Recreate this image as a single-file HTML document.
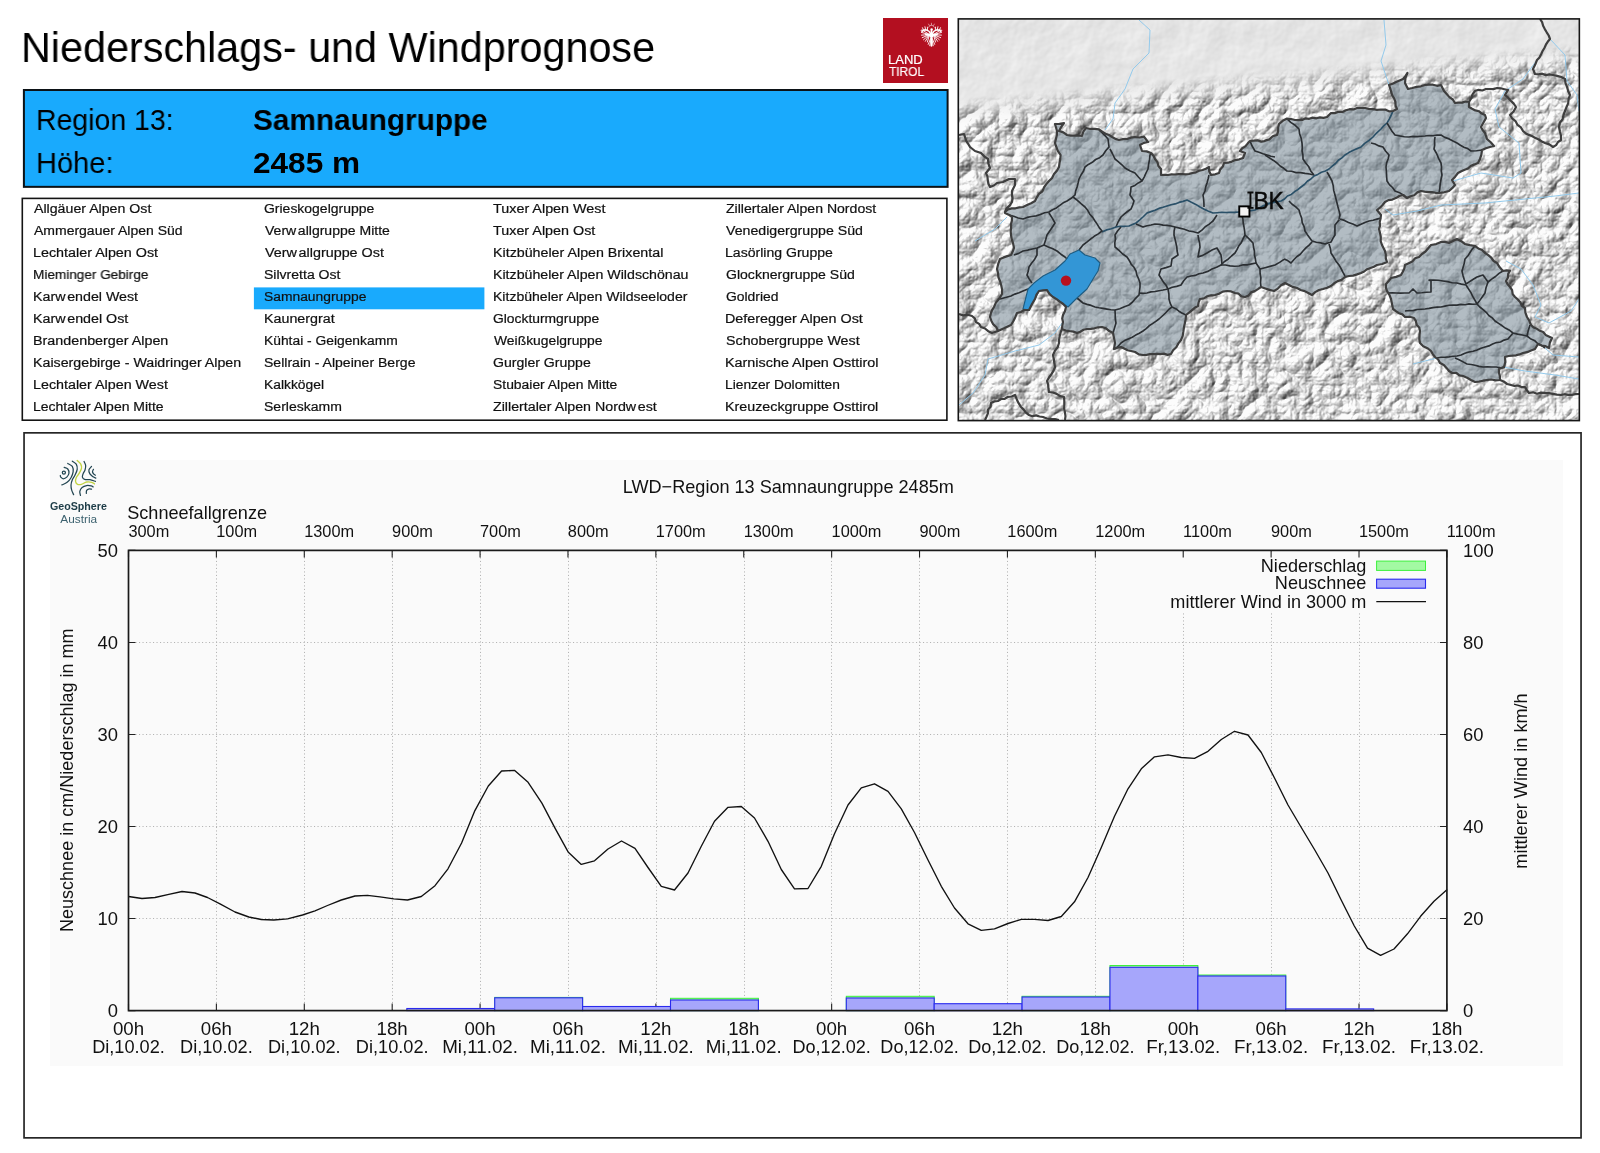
<!DOCTYPE html>
<html><head><meta charset="utf-8"><title>Niederschlags- und Windprognose</title>
<style>
html,body{margin:0;padding:0;background:#fff;}
body{width:1600px;height:1153px;position:relative;overflow:hidden;font-family:"Liberation Sans",sans-serif;color:#000;}
.abs{position:absolute;}
svg{will-change:transform;}
.t{position:absolute;white-space:nowrap;transform-origin:0 0;line-height:1;will-change:transform;}
.l{-webkit-text-stroke:0.22px #111;}
.w{-webkit-text-stroke:0.2px #fff;}
</style></head><body>
<div class="t" style="left:21.192px;top:26.394px;font-size:43.1px;color:#000;transform:scaleX(0.959)">Niederschlags- und Windprognose</div>
<svg class="abs" style="left:883px;top:18px" width="65" height="65" viewBox="0 0 65 65">
<rect width="65" height="65" fill="#b30f20"/>
<g transform="translate(48.45 15.90) scale(0.9 0.98) translate(-48.45 -15.40)">
<path d="M46.25 16.10L37.94 11.22M46.25 16.10L37.32 13.94M46.25 16.10L37.38 16.67M46.25 16.10L38.18 19.24M46.25 16.10L39.63 21.41M46.25 16.10L41.64 22.95M46.25 16.10L43.95 23.69M40.05 12.30L38.45 9.10M42.05 11.50L41.25 8.10M44.15 11.60L43.95 8.50M38.55 13.50L36.85 11.70M50.65 16.10L58.96 11.22M50.65 16.10L59.58 13.94M50.65 16.10L59.52 16.67M50.65 16.10L58.72 19.24M50.65 16.10L57.27 21.41M50.65 16.10L55.26 22.95M50.65 16.10L52.95 23.69M56.85 12.30L58.45 9.10M54.85 11.50L55.65 8.10M52.75 11.60L52.95 8.50M58.35 13.50L60.05 11.70M47.65 19.90L44.85 26.10M49.25 19.90L52.05 26.10M47.95 20.90L46.55 27.50M48.95 20.90L50.35 27.50" stroke="#fff" stroke-width="0.95" stroke-linecap="round" fill="none"/>
<path d="M47.65 15.30C45.45 10.70 40.45 10.30 38.05 12.70" stroke="#fff" stroke-width="1.7" fill="none" stroke-linecap="round"/>
<path d="M49.25 15.30C51.45 10.70 56.45 10.30 58.85 12.70" stroke="#fff" stroke-width="1.7" fill="none" stroke-linecap="round"/>
<path d="M42.25 16.10h12.4" stroke="#fff" stroke-width="1.9" stroke-linecap="round"/>
<path d="M48.45 12.50V27.50" stroke="#fff" stroke-width="2.1" stroke-linecap="round"/>
<circle cx="48.45" cy="16.70" r="2.6" fill="#fff"/>
<circle cx="48.65" cy="10.90" r="1.35" fill="#fff"/>
<g fill="none" stroke="#fff" stroke-opacity="0.78" stroke-width="0.7" stroke-linecap="round">
<path d="M45.05 8.70q3.4 -4.6 6.8 0"/>
<path d="M46.15 6.90l-0.9 -1.5M48.45 6.30l0 -1.8M50.75 6.90l0.9 -1.5"/>
</g>
</g>
</svg>
<div class="t w" style="left:887.724px;top:53.658px;font-size:12.8px;color:#fff;transform:scaleX(1.019)">LAND</div>
<div class="t w" style="left:888.931px;top:65.758px;font-size:12.8px;color:#fff;transform:scaleX(0.933)">TIROL</div>
<svg class="abs" style="left:0;top:0" width="956" height="430"><rect x="23.9" y="90" width="923.7" height="96.85" fill="#19aafd" stroke="#0c1216" stroke-width="2"/><rect x="22.3" y="198.4" width="924.6" height="221.8" fill="#fff" stroke="#141414" stroke-width="1.6"/><rect x="253.9" y="287.4" width="230.5" height="21.9" fill="#19aafd"/></svg>
<div class="t" style="left:36.451px;top:103.951px;font-size:30.4px;color:#000;transform:scaleX(0.936)">Region 13:</div>
<div class="t" style="left:253.307px;top:103.951px;font-size:30.4px;font-weight:bold;color:#000;transform:scaleX(0.979)">Samnaungruppe</div>
<div class="t" style="left:36.406px;top:146.951px;font-size:30.4px;color:#000;transform:scaleX(0.955)">Höhe:</div>
<div class="t" style="left:253.495px;top:146.951px;font-size:30.4px;font-weight:bold;color:#000;transform:scaleX(1.038)">2485 m</div>
<div class="t l" style="left:33.665px;top:201.796px;font-size:13.7px;color:#111;transform:scaleX(1.035)">Allgäuer Alpen Ost</div>
<div class="t l" style="left:33.665px;top:223.796px;font-size:13.7px;color:#111;transform:scaleX(1.022)">Ammergauer Alpen Süd</div>
<div class="t l" style="left:32.517px;top:245.796px;font-size:13.7px;color:#111;transform:scaleX(1.047)">Lechtaler Alpen Ost</div>
<div class="t l" style="left:32.579px;top:267.796px;font-size:13.7px;color:#111;transform:scaleX(0.992)">Mieminger Gebirge</div>
<div class="t l" style="left:32.524px;top:289.796px;font-size:13.7px;color:#111;transform:scaleX(1.04)">Kar<span style="letter-spacing:1.6px">w</span>endel West</div>
<div class="t l" style="left:32.521px;top:311.796px;font-size:13.7px;color:#111;transform:scaleX(1.043)">Kar<span style="letter-spacing:1.6px">w</span>endel Ost</div>
<div class="t l" style="left:32.518px;top:333.796px;font-size:13.7px;color:#111;transform:scaleX(1.046)">Brandenberger Alpen</div>
<div class="t l" style="left:32.526px;top:355.796px;font-size:13.7px;color:#111;transform:scaleX(1.039)">Kaisergebirge - Waidringer Alpen</div>
<div class="t l" style="left:32.518px;top:377.796px;font-size:13.7px;color:#111;transform:scaleX(1.045)">Lechtaler Alpen West</div>
<div class="t l" style="left:32.545px;top:399.796px;font-size:13.7px;color:#111;transform:scaleX(1.022)">Lechtaler Alpen Mitte</div>
<div class="t l" style="left:264.201px;top:201.796px;font-size:13.7px;color:#111;transform:scaleX(1.02)">Grieskogelgruppe</div>
<div class="t l" style="left:264.83px;top:223.796px;font-size:13.7px;color:#111;transform:scaleX(1.025)">Ver<span style="letter-spacing:1.6px">w</span>allgruppe Mitte</div>
<div class="t l" style="left:264.828px;top:245.796px;font-size:13.7px;color:#111;transform:scaleX(1.048)">Ver<span style="letter-spacing:1.6px">w</span>allgruppe Ost</div>
<div class="t l" style="left:264.268px;top:267.796px;font-size:13.7px;color:#111;transform:scaleX(1.025)">Silvretta Ost</div>
<div class="t l" style="left:264.277px;top:289.796px;font-size:13.7px;color:#111;transform:scaleX(1.011)">Samnaungruppe</div>
<div class="t l" style="left:263.721px;top:311.796px;font-size:13.7px;color:#111;transform:scaleX(1.043)">Kaunergrat</div>
<div class="t l" style="left:263.758px;top:333.796px;font-size:13.7px;color:#111;transform:scaleX(1.01)">Kühtai - Geigenkamm</div>
<div class="t l" style="left:264.267px;top:355.796px;font-size:13.7px;color:#111;transform:scaleX(1.026)">Sellrain - Alpeiner Berge</div>
<div class="t l" style="left:263.757px;top:377.796px;font-size:13.7px;color:#111;transform:scaleX(1.011)">Kalkkögel</div>
<div class="t l" style="left:264.269px;top:399.796px;font-size:13.7px;color:#111;transform:scaleX(1.023)">Serleskamm</div>
<div class="t l" style="left:493.377px;top:201.796px;font-size:13.7px;color:#111;transform:scaleX(1.049)">Tuxer Alpen West</div>
<div class="t l" style="left:493.377px;top:223.796px;font-size:13.7px;color:#111;transform:scaleX(1.048)">Tuxer Alpen Ost</div>
<div class="t l" style="left:492.524px;top:245.796px;font-size:13.7px;color:#111;transform:scaleX(1.041)">Kitzbüheler Alpen Brixental</div>
<div class="t l" style="left:492.529px;top:267.796px;font-size:13.7px;color:#111;transform:scaleX(1.036)">Kitzbüheler Alpen Wildschönau</div>
<div class="t l" style="left:492.54px;top:289.796px;font-size:13.7px;color:#111;transform:scaleX(1.026)">Kitzbüheler Alpen Wildseeloder</div>
<div class="t l" style="left:493.006px;top:311.796px;font-size:13.7px;color:#111;transform:scaleX(1.012)">Glockturmgruppe</div>
<div class="t l" style="left:493.631px;top:333.796px;font-size:13.7px;color:#111;transform:scaleX(1.014)">Weißkugelgruppe</div>
<div class="t l" style="left:492.996px;top:355.796px;font-size:13.7px;color:#111;transform:scaleX(1.028)">Gurgler Gruppe</div>
<div class="t l" style="left:493.074px;top:377.796px;font-size:13.7px;color:#111;transform:scaleX(1.015)">Stubaier Alpen Mitte</div>
<div class="t l" style="left:493.238px;top:399.796px;font-size:13.7px;color:#111;transform:scaleX(1.039)">Zillertaler Alpen Nord<span style="letter-spacing:1.6px">w</span>est</div>
<div class="t l" style="left:725.942px;top:201.796px;font-size:13.7px;color:#111;transform:scaleX(1.028)">Zillertaler Alpen Nordost</div>
<div class="t l" style="left:726.329px;top:223.796px;font-size:13.7px;color:#111;transform:scaleX(1.034)">Venedigergruppe Süd</div>
<div class="t l" style="left:725.239px;top:245.796px;font-size:13.7px;color:#111;transform:scaleX(1.027)">Lasörling Gruppe</div>
<div class="t l" style="left:725.697px;top:267.796px;font-size:13.7px;color:#111;transform:scaleX(1.026)">Glocknergruppe Süd</div>
<div class="t l" style="left:725.705px;top:289.796px;font-size:13.7px;color:#111;transform:scaleX(1.015)">Goldried</div>
<div class="t l" style="left:725.217px;top:311.796px;font-size:13.7px;color:#111;transform:scaleX(1.047)">Deferegger Alpen Ost</div>
<div class="t l" style="left:725.758px;top:333.796px;font-size:13.7px;color:#111;transform:scaleX(1.041)">Schobergruppe West</div>
<div class="t l" style="left:725.214px;top:355.796px;font-size:13.7px;color:#111;transform:scaleX(1.05)">Karnische Alpen Osttirol</div>
<div class="t l" style="left:725.263px;top:377.796px;font-size:13.7px;color:#111;transform:scaleX(1.006)">Lienzer Dolomitten</div>
<div class="t l" style="left:725.22px;top:399.796px;font-size:13.7px;color:#111;transform:scaleX(1.044)">Kreuzeckgruppe Osttirol</div>
<svg class="abs" style="left:957px;top:17px" width="625" height="405" viewBox="957 17 625 405">
<defs>
<filter id="relief" x="0" y="0" width="100%" height="100%" color-interpolation-filters="sRGB">
<feTurbulence type="turbulence" baseFrequency="0.035" numOctaves="5" seed="7" result="n"/>
<feDiffuseLighting in="n" surfaceScale="4.2" diffuseConstant="1.16" lighting-color="#ffffff" result="l"><feDistantLight azimuth="225" elevation="46"/></feDiffuseLighting>
<feComponentTransfer in="l"><feFuncR type="linear" slope="0.78" intercept="0.21"/><feFuncG type="linear" slope="0.78" intercept="0.21"/><feFuncB type="linear" slope="0.78" intercept="0.21"/></feComponentTransfer>
</filter>
<filter id="relief2" x="0" y="0" width="100%" height="100%" color-interpolation-filters="sRGB">
<feTurbulence type="fractalNoise" baseFrequency="0.03" numOctaves="4" seed="11" result="n"/>
<feDiffuseLighting in="n" surfaceScale="0.45" diffuseConstant="1.25" lighting-color="#ffffff"><feDistantLight azimuth="225" elevation="46"/></feDiffuseLighting>
</filter>
<linearGradient id="fade" gradientUnits="userSpaceOnUse" x1="1270" y1="70" x2="1272.5" y2="98"><stop offset="0" stop-color="#000"/><stop offset="1" stop-color="#fff"/></linearGradient>
<mask id="mfade" maskUnits="userSpaceOnUse" x="957" y="17" width="625" height="405"><rect x="957" y="17" width="625" height="405" fill="url(#fade)"/></mask>
<clipPath id="mapclip"><rect x="958.3" y="18.9" width="621.05" height="401.7"/></clipPath>
</defs>
<g clip-path="url(#mapclip)">
<rect x="957" y="17" width="625" height="405" fill="#e2e2e2"/>
<rect x="957" y="17" width="625" height="405" filter="url(#relief2)"/>
<rect x="957" y="17" width="625" height="405" filter="url(#relief)" mask="url(#mfade)"/>
<path d="M1139 20 L1150 30 L1149 53 L1133 69 L1125 89 L1115 103 L1113 119 L1105 130" fill="none" stroke="#93caec" stroke-width="1" stroke-linejoin="round"/>
<path d="M1384 20 L1386 45 L1381 61 L1389 85" fill="none" stroke="#93caec" stroke-width="1" stroke-linejoin="round"/>
<path d="M1550 39 L1565 55 L1567 81 L1577 95 L1579 111" fill="none" stroke="#93caec" stroke-width="1" stroke-linejoin="round"/>
<path d="M1537 60 L1523 79 L1505 91 L1495 109 L1499 127 L1519 143 L1521 173 L1513 178 L1481 173 L1453 181" fill="none" stroke="#93caec" stroke-width="1" stroke-linejoin="round"/>
<path d="M1385 209 L1393 215 L1417 211 L1441 205 L1485 203 L1525 199 L1555 196 L1579 193" fill="none" stroke="#93caec" stroke-width="1" stroke-linejoin="round"/>
<path d="M1506 261 L1521 269 L1533 285 L1541 305 L1535 317 L1549 323 L1571 311 L1579 299" fill="none" stroke="#93caec" stroke-width="1" stroke-linejoin="round"/>
<path d="M1545 348 L1553 355 L1579 357" fill="none" stroke="#93caec" stroke-width="1" stroke-linejoin="round"/>
<path d="M1413 364 L1425 361 L1437 358" fill="none" stroke="#93caec" stroke-width="1" stroke-linejoin="round"/>
<path d="M1505 367.4 L1525 371 L1555 375 L1579 379" fill="none" stroke="#93caec" stroke-width="1" stroke-linejoin="round"/>
<path d="M959 405 L973 393 L985 375 L988 359 L1015 351 L1039 345 L1055 333 L1062 323" fill="none" stroke="#93caec" stroke-width="1" stroke-linejoin="round"/>
<path d="M975 241 L995 229 L1007 217" fill="none" stroke="#93caec" stroke-width="1" stroke-linejoin="round"/>
<path d="M1005 212 L1008 209.4 L1011.7 208.4 L1015.5 208.3 L1019.2 207.4 L1023 207 L1027.1 205.1 L1031.1 203.2 L1035 201 L1036.8 197.3 L1039 193.9 L1042.4 191.3 L1044 187.4 L1046.3 184.1 L1049 181 L1052.1 178 L1054 174 L1056.9 170.8 L1059 167 L1059.5 163 L1060.3 159 L1060.6 155 L1057.8 150.8 L1056 146 L1055 143 L1055.9 139 L1056.9 135.1 L1057 131 L1056 127.5 L1055 124 L1059.5 123.9 L1064 123 L1061.3 126.9 L1059 131 L1063.3 132.4 L1067 135 L1070.7 135.7 L1074.5 135.6 L1078.3 135.4 L1082 136 L1083.3 131.7 L1086 128 L1090.3 129 L1094.7 128.9 L1099 129.4 L1102.2 131.6 L1105.4 133.7 L1109 135 L1112.2 137 L1115.4 138.9 L1119 140 L1123 139.1 L1127.1 139 L1131 137.7 L1135 137 L1139.5 137.5 L1144 136.6 L1148 142 L1143.8 142.9 L1140 145 L1142 151 L1146.6 151.4 L1151 153 L1153.5 155.7 L1155 159 L1157.4 162.1 L1158.4 166 L1161 169 L1161 175 L1164.5 174.8 L1168 175 L1171.5 174.3 L1175 174.5 L1178.5 174.2 L1182 174 L1185.5 174.3 L1189 174 L1192.4 173 L1195.9 172.3 L1199.1 170.8 L1202.6 170 L1205.9 168.7 L1209 167 L1209.2 171.2 L1211 175 L1215.1 174.3 L1219 173 L1220.2 169.4 L1222.8 166.6 L1224 163 L1228 162.7 L1231.8 161.6 L1235.4 160.1 L1239.3 159.3 L1243 158 L1245 153 L1240 151 L1242.2 148.2 L1245.4 146.4 L1247.6 143.6 L1250 141 L1253.8 140.7 L1257.5 140.3 L1261.2 141.6 L1265 141 L1265 140.6 L1269.3 139.4 L1272.7 136.3 L1277 135 L1278.1 131.4 L1278.2 127.6 L1279 124 L1282.7 120.8 L1287 118.6 L1291.1 119 L1295 120 L1298.6 120.1 L1302.2 119.9 L1305.6 118.3 L1309.2 118.8 L1312.7 117.6 L1316.4 118.3 L1319.9 117.4 L1323.5 117.9 L1327 117 L1331 113 L1334.9 113.1 L1338.5 111.8 L1342.4 111.9 L1345.9 110.2 L1349.6 109.2 L1353.5 109.4 L1357.1 107.9 L1361 108 L1365.1 108 L1369 109 L1373 109.2 L1377 109.8 L1381 109.5 L1385.1 109.6 L1389 111.3 L1393 111 L1397 109 L1395.6 105.7 L1395.4 101.9 L1394.2 98.5 L1392.2 95.3 L1391.2 91.9 L1390.2 88.4 L1389 85 L1392.6 83.7 L1396.1 82.1 L1399.5 80.6 L1403 79 L1405.4 76.1 L1407.4 73 L1405.5 77.8 L1405 83 L1408 89 L1412.3 88 L1416.5 86.9 L1420.8 86.3 L1425 85 L1429 84.6 L1433 84.7 L1437 85.8 L1441 85 L1444 91 L1446.7 94 L1449.4 97.1 L1452.8 99.5 L1455 103 L1458.5 102.6 L1462 102.6 L1465.4 101.5 L1469 102 L1469 107 L1472.1 108.8 L1475.3 110.4 L1478.9 111.2 L1481.7 113.6 L1485 115 L1486 118 L1483.5 122.5 L1481 127 L1482.8 130.2 L1485 133 L1487 139 L1490.7 142.3 L1494 146 L1489.9 147 L1485.9 148.3 L1482 150 L1481.4 154.6 L1480 158.9 L1478 163 L1474.5 164.4 L1471 165.7 L1468.2 168.4 L1464.7 169.7 L1461.3 171.2 L1458 173 L1455.2 176.7 L1452 180 L1455 185 L1452.2 188.2 L1449 191 L1444.1 192.3 L1439 193 L1435.4 192.8 L1431.8 192 L1428.2 192.1 L1424.6 191.6 L1421 191 L1417.3 192.4 L1414.3 195.2 L1410.5 196.2 L1407 198 L1403 195 L1399.3 196 L1395.9 198.1 L1392.4 199.6 L1388.4 200.1 L1385 202 L1382.6 205 L1380 207.7 L1377 210 L1381 215 L1380.6 218.5 L1379.7 222 L1380.1 225.6 L1379 229 L1380 232.9 L1380.8 237 L1380.7 241.1 L1382 245 L1385 251 L1385.8 254.6 L1385.8 258.4 L1387 262 L1382.2 264 L1377 265 L1373.9 266.8 L1370.5 268 L1367.1 269.2 L1364.2 271.5 L1361 273 L1357.1 274.4 L1353.1 275.6 L1349 276 L1345 277 L1341.8 279.7 L1337.7 281.1 L1334.2 283.3 L1331 286 L1327.2 287.8 L1323.1 289 L1319 290 L1315.2 292.1 L1312 295 L1308.3 293 L1304.7 291.1 L1300.6 290 L1297 288 L1292.8 286.9 L1288.9 285 L1285 283 L1281.1 285.3 L1277.9 288.6 L1274 291 L1269.6 289.9 L1265.3 288.5 L1261 287 L1257.9 289.1 L1254.7 291.1 L1251 292.4 L1248.5 295.5 L1245 297 L1241.4 296.4 L1238.6 293.7 L1235 293 L1231.1 291.4 L1227 291 L1222.8 291.6 L1219 293.8 L1215 295 L1211.1 295.3 L1207.3 296.3 L1203.9 298.4 L1200 299 L1198.6 302.4 L1198 306 L1194.7 307.8 L1191.8 310.3 L1189 312.7 L1186 315 L1185.7 319.1 L1184.9 323 L1184 327 L1183.4 331.4 L1182.7 335.8 L1181 340 L1178.4 343.4 L1176.3 347.2 L1173.1 350.2 L1171 354 L1167.5 354.9 L1164 353.6 L1160.5 354.1 L1157 353.8 L1153.5 354 L1150 354.1 L1146.5 354.8 L1143 355 L1138.8 354.4 L1135.1 352 L1131 351 L1127.5 350.2 L1124.2 348.6 L1121 347 L1117.4 347.7 L1114 349 L1115 343 L1114 338 L1113 333 L1109.3 331.1 L1106 328.4 L1102 327 L1098.2 327.3 L1094.5 328.3 L1090.8 328.9 L1087 329 L1083.5 329.8 L1080.3 331.7 L1077 333 L1073.4 331.6 L1069.4 331.2 L1065.6 330.5 L1062 329 L1062.3 325.5 L1063 322 L1062.2 318.5 L1063 315 L1064.9 311.2 L1066 307 L1063.2 304 L1059.8 301.6 L1056.6 299.1 L1053 297 L1049.4 294 L1047 290 L1043 290.3 L1039 291 L1036.5 294.7 L1035 299 L1032 304 L1029 310 L1024 310 L1020.8 312.2 L1017 313 L1015.3 317.2 L1013.3 321.2 L1011 325 L1007.7 326.5 L1004.6 328.1 L1001.3 329.5 L998 331 L996.4 327.3 L993.3 324.4 L991.4 320.9 L990 317 L990.8 313.4 L992.1 310.1 L994 307 L995.9 302.6 L999 299 L1002 294 L1002.1 289.6 L1001.2 285.2 L1000 281 L998.4 277.2 L998 273 L997 269 L998.2 263.9 L1000 259 L1003.6 257.4 L1007.3 256.1 L1011 255 L1012.7 251.6 L1014 248 L1013.1 243.6 L1011.8 239.4 L1011 235 L1010.7 231.4 L1011.1 227.8 L1011 224.2 L1011.9 220.6 L1012 217 L1008.7 214.7 L1005 213Z" fill="#85949f" fill-opacity="0.62"/>
<path d="M1386 284 L1388.7 281.1 L1391 278 L1396.1 276.9 L1401 275 L1402.8 271.8 L1404.3 268.6 L1405 265 L1408.7 263.3 L1412.3 261.6 L1415.1 258.3 L1419 257 L1422 254 L1425.5 251.5 L1428.2 248.2 L1431 245 L1436.2 244.1 L1441 242 L1445.1 241.9 L1449 243 L1453 241 L1457 239 L1461.2 241.2 L1465 244 L1470 245.1 L1475 246 L1478.3 248.4 L1482.1 250 L1485 253 L1488.3 255.2 L1491.2 257.7 L1493.6 261 L1497 263 L1499.7 267.3 L1503 271 L1506.5 270.3 L1510 270.6 L1508.2 273.9 L1507.9 277.7 L1506 281 L1507.6 284.3 L1510.1 287.1 L1512.1 290.2 L1512.7 294.1 L1515 297 L1517.8 299.4 L1520.3 302.2 L1521.9 305.8 L1525 308 L1525.4 312.6 L1527 317 L1529.3 320.8 L1531 325 L1533.6 327.5 L1537 328.8 L1539.9 330.8 L1543.2 332 L1545.6 334.9 L1548.8 336.4 L1552 338 L1549.8 342.8 L1549 348 L1545.5 346.1 L1541.6 345.6 L1538 344 L1535 349 L1531.1 350.5 L1527.2 352.2 L1523 353 L1519.5 354.4 L1516 355.3 L1512.3 355.7 L1508.6 356 L1505 357 L1505.3 362.1 L1504 367 L1499 369 L1499 372.7 L1499.9 376.3 L1500 380 L1495.7 380.3 L1491.3 379.5 L1487 380 L1483 380.7 L1479 381.6 L1475 382 L1471 380 L1467.1 377.7 L1463 376 L1459.3 375.4 L1456.3 372.8 L1452.2 373 L1449 371 L1446.5 367.9 L1443.8 365 L1440.1 363.1 L1438.1 359.5 L1435 357 L1432.8 354.1 L1431 351 L1427.4 348.2 L1423.2 346.3 L1420 343 L1419.3 339 L1419.5 335 L1420 331 L1419.2 327.4 L1416.6 324.7 L1415.9 321.1 L1414 318 L1409.6 316.8 L1405 317 L1402.4 314.4 L1398.9 313.2 L1395.9 311.2 L1393 309 L1392 304 L1391 299 L1389.4 294.8 L1387 291 L1385.9 287.6Z" fill="#85949f" fill-opacity="0.62"/>
<path d="M1023 309 L1028 289 L1034 283 L1043 276 L1055 270 L1065 261 L1070 254 L1079 250 L1085 255 L1095 258 L1100 263 L1098 271 L1093 279 L1087 289 L1077 298 L1068 307 L1053 297 L1047 290 L1039 291 L1035 299 L1032 304 L1029 310Z" fill="#3396d6"/>
<path d="M1009 215 L1013.7 216.3 L1018.2 218 L1023 219 L1027.2 217.4 L1031.6 216.5 L1036.1 215.9 L1040.4 214.5 L1044.6 212.8 L1049 212 L1052.5 209.7 L1056.4 207.9 L1059.8 205.4 L1063.2 202.8 L1067 201 L1071.2 198.3 L1075 195 L1075.7 190.9 L1077.1 187 L1078.1 183 L1079 179 L1081 175 L1083.4 171.2 L1085 167 L1088.4 164.4 L1092.3 162.3 L1095.6 159.5 L1099.6 157.7 L1103 155 L1105.7 150.8 L1109 147 L1108.5 143 L1108 139 L1105.2 135.8 L1102.2 132.8 L1099 130" fill="none" stroke="#2b2f33" stroke-width="1.65" stroke-linejoin="round"/>
<path d="M1110 149 L1112.6 154 L1115 159 L1118.5 161.8 L1121.9 164.8 L1125 168 L1129.8 170.8 L1135 173 L1138.4 177 L1142 181 L1144.2 177.1 L1146 173 L1148 169 L1148.6 164.3 L1149.5 159.7 L1150 155 L1151 153" fill="none" stroke="#2b2f33" stroke-width="1.65" stroke-linejoin="round"/>
<path d="M1142 181 L1138.3 182.9 L1134.9 185.4 L1131 187 L1130.7 191 L1130 195 L1134 201 L1132.7 205.1 L1131 209 L1127.5 211.5 L1124.2 214.2 L1121 217 L1118.2 221.8 L1116 227" fill="none" stroke="#2b2f33" stroke-width="1.65" stroke-linejoin="round"/>
<path d="M1102 232 L1106.5 229.9 L1111.4 228.8 L1116 227 L1120.3 226.3 L1124.7 226.3 L1129 226 L1136 223 L1139.8 219.8 L1143.5 216.5 L1147 213 L1151 211.6 L1155 210.2 L1158.9 208.4 L1163 207.3 L1167 206 L1171 204.7 L1175.1 203.9 L1179 202.4 L1183.1 201.4 L1187 200 L1191.4 202.3 L1195.8 204.4 L1200 207 L1204.2 209.3 L1208.5 211.3 L1213 213 L1217.3 212.7 L1221.7 212.3 L1226 212.5 L1230.3 212.3 L1234.7 212.4 L1239 212 L1243 211.6 L1247 211 L1251 210.6 L1255 210 L1259 208.1 L1262.8 206 L1266.8 204.2 L1271.2 203.2 L1275 201" fill="none" stroke="#2a5068" stroke-width="1.65" stroke-linejoin="round"/>
<path d="M1209 175 L1208.1 179 L1207 183 L1205.7 186.9 L1205 191 L1203 195 L1203.6 199 L1203.9 203 L1204 207" fill="none" stroke="#2b2f33" stroke-width="1.65" stroke-linejoin="round"/>
<path d="M1136 224 L1143 227 L1147 225.8 L1151 225 L1155 224 L1159.1 224.2 L1163 225.1 L1167.1 225.4 L1171.1 226 L1175 227 L1179.7 228.1 L1184.4 229.3 L1189 231 L1193.5 231.8 L1198 233 L1201.9 230.2 L1205.2 226.7 L1209.3 224.1 L1213 221 L1217 215" fill="none" stroke="#2b2f33" stroke-width="1.65" stroke-linejoin="round"/>
<path d="M1250 141 L1252.2 146.2 L1255 151 L1259 152.2 L1263 153.7 L1267 155 L1270.9 156.3 L1275 157" fill="none" stroke="#2b2f33" stroke-width="1.65" stroke-linejoin="round"/>
<path d="M1049 213 L1052.1 217.9 L1055 223 L1052.4 227 L1049.7 231 L1047 235 L1045.6 240 L1044 245 L1037 248 L1032.3 249 L1027.7 250.1 L1023 251 L1018.7 253.4 L1014 255" fill="none" stroke="#2b2f33" stroke-width="1.65" stroke-linejoin="round"/>
<path d="M1044 245 L1048.3 247 L1052.8 248.7 L1057 251 L1060.9 254.2 L1065 257 L1067 259" fill="none" stroke="#2b2f33" stroke-width="1.65" stroke-linejoin="round"/>
<path d="M1037 248 L1037 255 L1034.7 259.2 L1031.7 263 L1029 267 L1028.3 271.1 L1027 275 L1029.3 279.1 L1032 283" fill="none" stroke="#2b2f33" stroke-width="1.65" stroke-linejoin="round"/>
<path d="M1000 299 L1005.5 297.5 L1011 296 L1014.9 294.1 L1019 292.8 L1023 291 L1028 289" fill="none" stroke="#2b2f33" stroke-width="1.65" stroke-linejoin="round"/>
<path d="M1073 197 L1077.1 200.2 L1081 203.7 L1085 207 L1087.7 210.3 L1089.8 214.2 L1092.7 217.4 L1095 221 L1097.3 224.4 L1099.4 227.9 L1102 231 L1098.3 233.9 L1094.2 236.3 L1090.5 239.2 L1086.8 242.2 L1083 245 L1079 250" fill="none" stroke="#2b2f33" stroke-width="1.65" stroke-linejoin="round"/>
<path d="M1121 227 L1117.7 230.7 L1115 235 L1115.4 239 L1114.8 243 L1115 247 L1119 250.3 L1122.7 254 L1127 257 L1129.3 260.5 L1131.2 264.2 L1134 267.3 L1136 271 L1136.9 275.1 L1138.7 279 L1140 283 L1140 287 L1139.5 291 L1139 295 L1135.6 298.3 L1132.6 302 L1129 305 L1124.4 306.8 L1119.8 308.7 L1115 310 L1110.9 309.8 L1107 309.1 L1103 308.4 L1099 307.8 L1095 307 L1091.1 305.4 L1087 304.4 L1083 303 L1077 298" fill="none" stroke="#2b2f33" stroke-width="1.65" stroke-linejoin="round"/>
<path d="M1115 310 L1115.2 314.3 L1115.3 318.7 L1116 323 L1114.5 328 L1113 333" fill="none" stroke="#2b2f33" stroke-width="1.65" stroke-linejoin="round"/>
<path d="M1139 293 L1143 293.4 L1147 293 L1150.9 291.9 L1155 291.5 L1159 290.7 L1163 290 L1168 289 L1166.1 285.3 L1163.4 282.1 L1161.2 278.5 L1159 275 L1161 269 L1166 267.6 L1171 266 L1172 259 L1178 255 L1177.1 251 L1176.8 246.9 L1175.9 242.9 L1175 239 L1174 235 L1174.1 231 L1175 227" fill="none" stroke="#2b2f33" stroke-width="1.65" stroke-linejoin="round"/>
<path d="M1168 289 L1168.9 294 L1169 299 L1170.1 303.1 L1172 307 L1175.7 308.7 L1178.9 311.2 L1182.3 313.3 L1186 315" fill="none" stroke="#2b2f33" stroke-width="1.65" stroke-linejoin="round"/>
<path d="M1172 307 L1168.5 309.7 L1165.5 313 L1162.3 316 L1159 319 L1155.8 321.4 L1152.5 323.6 L1149.1 325.8 L1146.2 328.7 L1143 331 L1139.4 333.2 L1135.7 335.1 L1132.2 337.3 L1128.3 338.9 L1124.5 340.6 L1121 343 L1118.2 346.2 L1115 349" fill="none" stroke="#2b2f33" stroke-width="1.65" stroke-linejoin="round"/>
<path d="M1168 289 L1172.2 287.3 L1176.7 286.4 L1181 285 L1183.7 280.7 L1187 277 L1191 276 L1195.1 275.4 L1199 273.8 L1203 273 L1207.7 271.4 L1212 269.1 L1216.6 267.3 L1221 265 L1224.2 261.7 L1228.1 259.2 L1231.5 256 L1235 253 L1237.1 249.4 L1238.9 245.7 L1241.4 242.4 L1243.1 238.7 L1245 235 L1244.6 231 L1244 227 L1243.2 223 L1242.9 219 L1242 215" fill="none" stroke="#2b2f33" stroke-width="1.65" stroke-linejoin="round"/>
<path d="M1198 235 L1198.6 239 L1199.6 243 L1200 247 L1198.9 252 L1198 257 L1202.7 255.4 L1207 253 L1211.8 250.1 L1217 248 L1219 251.5 L1221 255 L1221.6 259.5 L1222 264" fill="none" stroke="#2b2f33" stroke-width="1.65" stroke-linejoin="round"/>
<path d="M1221 265 L1225.5 265 L1230 265.9 L1234.5 266.2 L1239 266 L1243.2 264.8 L1247.6 264.8 L1251.8 263.9 L1256 263 L1260 269 L1260.1 273.5 L1260.9 278 L1260.5 282.5 L1261 287" fill="none" stroke="#2b2f33" stroke-width="1.65" stroke-linejoin="round"/>
<path d="M1245 235 L1249.1 238.9 L1253 243 L1253.5 247 L1254.4 251 L1254.5 255 L1255.4 259 L1256 263" fill="none" stroke="#2b2f33" stroke-width="1.65" stroke-linejoin="round"/>
<path d="M1260 269 L1265 267.7 L1270 266.4 L1275 265 L1279.6 262.4 L1284 259.4" fill="none" stroke="#2b2f33" stroke-width="1.65" stroke-linejoin="round"/>
<path d="M1287 118.6 L1290.7 122.4 L1295.2 125.3 L1299 129 L1299.6 133.8 L1301.2 138.3 L1302 143 L1302.3 147 L1302.1 151 L1302.9 155 L1303 159 L1305.7 163 L1308.8 166.8 L1310.9 171.2 L1314 175" fill="none" stroke="#2b2f33" stroke-width="1.65" stroke-linejoin="round"/>
<path d="M1265 155 L1269 157.6 L1273.1 160.2 L1277 163 L1280.1 166 L1283.7 168.3 L1287 171 L1291.6 171.3 L1296 172.6 L1300.6 172.6 L1305 173.4 L1309.6 174 L1314 175" fill="none" stroke="#2b2f33" stroke-width="1.65" stroke-linejoin="round"/>
<path d="M1265 204 L1269 203.2 L1273 202.6 L1277 201.7 L1281 201 L1284.6 199 L1287.4 196 L1291.3 194.4 L1294.4 191.8 L1297.8 189.6 L1301 187 L1304.4 184.5 L1307.3 181.3 L1310.9 179 L1314 176 L1317.8 174.4 L1321.4 172.2 L1325.4 171 L1329 169 L1332.2 166.2 L1335.5 163.5 L1338.4 160.3 L1341.9 157.9 L1345 155 L1348.8 152.6 L1352.8 150.6 L1356.8 148.7 L1361 147 L1364.7 143.4 L1369.1 140.4 L1373 137 L1376.8 132.8 L1381 129 L1383.8 125.8 L1387 123 L1389.3 119.1 L1391.2 115.1 L1393 111" fill="none" stroke="#2a5068" stroke-width="1.65" stroke-linejoin="round"/>
<path d="M1327 172 L1329.6 176.5 L1332 181 L1333.2 185.6 L1333.7 190.4 L1335 195 L1336 199 L1337 203 L1338 207 L1339.1 211 L1340 215 L1339 219" fill="none" stroke="#2b2f33" stroke-width="1.65" stroke-linejoin="round"/>
<path d="M1340 219 L1344.4 220.4 L1348.5 222.4 L1352.8 224 L1357 226 L1361 224.3 L1364.9 222.5 L1369 221 L1373.1 220.3 L1377 219.1 L1381 218" fill="none" stroke="#2b2f33" stroke-width="1.65" stroke-linejoin="round"/>
<path d="M1371 143 L1375.1 144 L1378.9 145.9 L1383 147 L1385.7 151.3 L1389 155 L1388.1 159 L1386.6 162.9 L1386 167 L1386.4 171.7 L1386.6 176.3 L1387 181 L1389.4 184.6 L1392.5 187.5 L1395 191 L1400.2 193.1 L1405 196" fill="none" stroke="#2b2f33" stroke-width="1.65" stroke-linejoin="round"/>
<path d="M1387 123 L1389.5 127.1 L1392 131.2 L1395 135 L1399.6 135.9 L1404.3 136.7 L1409 137 L1413 136.4 L1417 136.6 L1421 136.2 L1425 136 L1429 135.5 L1433 135.8 L1437 135.1 L1441 135 L1444.8 137.4 L1449.1 138.9 L1453 141 L1457 143 L1460.4 145.2 L1463.9 147.2 L1467.7 148.6 L1471 151 L1476.5 150.7 L1482 150" fill="none" stroke="#2b2f33" stroke-width="1.65" stroke-linejoin="round"/>
<path d="M1435 137 L1434.5 141 L1434.7 145 L1434 149 L1436.6 153.5 L1438.6 158.4 L1441 163 L1441.5 167 L1441.3 171 L1442 175 L1441 179.5 L1440.2 183.9 L1439.8 188.5 L1439 193" fill="none" stroke="#2b2f33" stroke-width="1.65" stroke-linejoin="round"/>
<path d="M1289 201 L1292.1 204.3 L1295.8 206.9 L1299 210 L1300.2 214.2 L1301.7 218.3 L1302.2 222.7 L1304.1 226.7 L1305 231 L1307.2 234.4 L1309.6 237.7 L1312 241 L1316.3 242.2 L1320.7 242.9 L1325 244 L1331 242 L1332.9 238.4 L1335 235 L1334.9 230 L1335 225 L1339.4 219.4" fill="none" stroke="#2b2f33" stroke-width="1.65" stroke-linejoin="round"/>
<path d="M1312 242 L1309.1 245.1 L1305.9 247.9 L1303 251 L1300.3 254.3 L1296.7 256.7 L1293.8 259.8 L1291 263 L1287.7 260.6 L1284 259" fill="none" stroke="#2b2f33" stroke-width="1.65" stroke-linejoin="round"/>
<path d="M1329 244 L1330.4 248.4 L1331 253 L1333.6 257 L1336 261.2 L1339 265 L1341.1 268.6 L1343 272.4 L1345 276" fill="none" stroke="#2b2f33" stroke-width="1.65" stroke-linejoin="round"/>
<path d="M1388 293 L1392.2 292.8 L1396.4 293 L1400.6 293.1 L1404.8 293 L1409 293 L1413 289 L1417 293 L1421.7 292.7 L1426.3 292.3 L1431 292 L1431 286.5 L1431 281 L1429 280 L1433.7 280.1 L1438.4 280.3 L1443 281 L1447.6 281.6 L1452.2 282.8 L1456.9 283 L1461.4 284.1 L1466 285" fill="none" stroke="#2b2f33" stroke-width="1.65" stroke-linejoin="round"/>
<path d="M1475 246 L1472.2 249.1 L1470 252.5 L1467.8 256 L1465 259 L1464.3 263.1 L1463.2 267 L1462 271 L1463 275.4 L1464.3 279.8 L1466 284 L1469.6 281.6 L1473.3 279.3 L1477 277 L1483 275 L1485.5 278.5 L1488 282 L1486.1 287.4 L1485 293 L1482.4 296.7 L1479.8 300.4 L1477 304" fill="none" stroke="#2b2f33" stroke-width="1.65" stroke-linejoin="round"/>
<path d="M1488 282 L1491.7 279.2 L1495.5 276.5 L1499 273.4 L1503 271" fill="none" stroke="#2b2f33" stroke-width="1.65" stroke-linejoin="round"/>
<path d="M1405 311 L1409 310.5 L1413 310.6 L1417 309.5 L1421 309.2 L1425 309 L1429 308.4 L1433 307.6 L1437 307.1 L1441 307 L1445 306.1 L1448.9 305.2 L1453 305 L1457 305.1 L1461 304.4 L1465 304.8 L1469 303.9 L1473 304.3 L1477 304 L1474.9 300.2 L1472.7 296.4 L1470.8 292.4 L1468.4 288.7 L1466 285" fill="none" stroke="#2b2f33" stroke-width="1.65" stroke-linejoin="round"/>
<path d="M1477 304 L1479.8 307 L1483.1 309.6 L1486.2 312.3 L1488.8 315.5 L1492.2 317.9 L1495 321 L1498.6 323.4 L1502.2 325.8 L1505.7 328.3 L1509.6 330.3 L1513 333 L1517.6 334.1 L1522.3 335 L1527 336 L1530.4 338.7 L1534.4 340.4 L1537.6 343.5 L1541.6 345.4 L1545 348" fill="none" stroke="#2b2f33" stroke-width="1.65" stroke-linejoin="round"/>
<path d="M1513 333 L1508 339 L1504.1 340.1 L1500.5 342 L1496.4 342.6 L1492.6 344.1 L1488.9 345.9 L1485 347 L1481 348.3 L1477.1 350 L1473.1 351.2 L1469 352 L1464.9 353.2 L1461.1 355 L1457 356 L1453 356.2 L1449 356.9 L1445 357.2 L1441 357.3 L1437 358" fill="none" stroke="#2b2f33" stroke-width="1.65" stroke-linejoin="round"/>
<path d="M1455 358 L1459.1 359.7 L1463.1 361.9 L1467 364 L1471.1 364.5 L1475 365.3 L1479 366.4 L1483 367 L1487.4 366.8 L1491.8 367 L1496.2 367 L1500.6 367.7 L1505 367.4" fill="none" stroke="#2b2f33" stroke-width="1.65" stroke-linejoin="round"/>
<path d="M1527 336 L1528.3 330.4 L1530 325" fill="none" stroke="#2b2f33" stroke-width="1.65" stroke-linejoin="round"/>
<path d="M1023 309 L1028 289 L1034 283 L1043 276 L1055 270 L1065 261 L1070 254 L1079 250 L1085 255 L1095 258 L1100 263 L1098 271 L1093 279 L1087 289 L1077 298 L1068 307 L1053 297 L1047 290 L1039 291 L1035 299 L1032 304 L1029 310Z" fill="none" stroke="#1e5c82" stroke-width="1.1" stroke-linejoin="round"/>
<path d="M959 135 L964 134 L965 137 L966.1 140.6 L968.1 143.8 L970 147 L975 151 L981 153 L984.2 156.3 L988 159 L988.4 163.6 L990 168 L986 173 L987.4 176.4 L987.8 180.1 L988.4 183.7 L990 187 L993.8 185.5 L997 183 L1003 182 L1009 179 L1015 179 L1015 185 L1012 191 L1011.9 194.7 L1012.5 198.3 L1012 202 L1009.8 205.4 L1006.7 208.2 L1005 212" fill="none" stroke="#3e3e3e" stroke-width="2.2" stroke-linejoin="round"/>
<path d="M1540 19 L1542.1 22.1 L1543.1 25.8 L1544.8 29.1 L1546.7 32.3 L1548.7 35.5 L1550 39 L1547.7 41.8 L1545.9 44.7 L1544.4 48 L1542.6 51 L1541.1 54.2 L1539.5 57.4 L1537 60 L1535.2 64.6 L1533 69 L1535 74 L1538.6 74.3 L1542.2 73.7 L1545.8 75.1 L1549.4 74.4 L1553 75 L1557.1 75.9 L1561.2 77 L1565 79 L1565.5 83.2 L1567.1 87.1 L1568.2 91.2 L1570 95 L1568.6 98.9 L1568.2 103.2 L1566.5 107.1 L1565 111 L1563.5 115 L1562.6 119.2 L1559.8 122.7 L1559 127 L1559.9 131.3 L1560.9 135.6 L1561 140 L1558 142 L1556.1 145.1 L1553 147 L1549.3 144.4 L1545 143 L1541.8 141.4 L1538.8 139.5 L1535.5 138.1 L1532.4 136.2 L1529 134.9 L1525.8 133.4 L1523 131 L1520.9 127.4 L1517.5 124.9 L1515.5 121.1 L1512.2 118.5 L1510 115 L1513.6 111.5 L1516 107 L1513.7 103.6 L1510.8 100.7 L1508.1 97.7 L1505 95 L1508 90 L1504.4 89.2 L1500.7 88.3 L1497 88 L1493.4 89.1 L1489.7 89 L1485.9 89 L1482.4 90.5 L1478.6 89.8 L1475 91 L1472.5 94.4 L1471.1 98.4 L1469 102" fill="none" stroke="#3e3e3e" stroke-width="2.2" stroke-linejoin="round"/>
<path d="M959 314 L963.2 315.4 L967.8 314.8 L972 316 L974.8 318.3 L975.9 322 L979.1 323.9 L981 327 L985 328.5 L988.2 331.2 L992 333 L998 331" fill="none" stroke="#3e3e3e" stroke-width="2.2" stroke-linejoin="round"/>
<path d="M1062 329 L1060.6 332.4 L1059.8 335.8 L1059.1 339.4 L1059 343 L1057.6 347.3 L1054.9 350.9 L1053 355 L1053.8 359 L1054.3 363 L1055 367 L1053.5 370.8 L1051.4 374.2 L1049.1 377.5 L1047 381 L1048.1 384.6 L1048.4 388.3 L1049 392 L1053 392.5 L1056.7 393.9 L1060.1 396.1 L1064 397 L1064.3 400.8 L1064.3 404.7 L1064.1 408.5 L1064.9 412.3 L1065.5 416.1 L1065 420" fill="none" stroke="#3e3e3e" stroke-width="2.2" stroke-linejoin="round"/>
<path d="M985 420 L986.5 416.7 L987.9 413.4 L988.1 409.6 L990.6 406.7 L991 403 L994.3 401.4 L997.9 401 L1001.1 399 L1004.8 398.8 L1008 396.8 L1011.7 396.5 L1015 395 L1016.7 399.2 L1018.6 403.2 L1021 407 L1023.7 409.6 L1025.9 412.7 L1029 415 L1032.4 416.3 L1036.1 415.4 L1039.5 416.5 L1043 417 L1046.9 418.5 L1050.9 418.9 L1055 419.2 L1059 420" fill="none" stroke="#3e3e3e" stroke-width="2.2" stroke-linejoin="round"/>
<path d="M1500 380 L1503.7 381.5 L1507.1 384 L1511 385 L1514.4 386 L1518.1 385.5 L1521.4 387.1 L1525 387 L1526.8 390.1 L1529 393 L1533 392.3 L1537 393.7 L1541 392.6 L1545 393 L1549 393.2 L1553 393.9 L1557 394.6 L1561 395 L1564.6 394.2 L1568.2 394.9 L1571.8 394.9 L1575.4 394.2 L1579 394" fill="none" stroke="#3e3e3e" stroke-width="2.2" stroke-linejoin="round"/>
<path d="M1005 212 L1008 209.4 L1011.7 208.4 L1015.5 208.3 L1019.2 207.4 L1023 207 L1027.1 205.1 L1031.1 203.2 L1035 201 L1036.8 197.3 L1039 193.9 L1042.4 191.3 L1044 187.4 L1046.3 184.1 L1049 181 L1052.1 178 L1054 174 L1056.9 170.8 L1059 167 L1059.5 163 L1060.3 159 L1060.6 155 L1057.8 150.8 L1056 146 L1055 143 L1055.9 139 L1056.9 135.1 L1057 131 L1056 127.5 L1055 124 L1059.5 123.9 L1064 123 L1061.3 126.9 L1059 131 L1063.3 132.4 L1067 135 L1070.7 135.7 L1074.5 135.6 L1078.3 135.4 L1082 136 L1083.3 131.7 L1086 128 L1090.3 129 L1094.7 128.9 L1099 129.4 L1102.2 131.6 L1105.4 133.7 L1109 135 L1112.2 137 L1115.4 138.9 L1119 140 L1123 139.1 L1127.1 139 L1131 137.7 L1135 137 L1139.5 137.5 L1144 136.6 L1148 142 L1143.8 142.9 L1140 145 L1142 151 L1146.6 151.4 L1151 153 L1153.5 155.7 L1155 159 L1157.4 162.1 L1158.4 166 L1161 169 L1161 175 L1164.5 174.8 L1168 175 L1171.5 174.3 L1175 174.5 L1178.5 174.2 L1182 174 L1185.5 174.3 L1189 174 L1192.4 173 L1195.9 172.3 L1199.1 170.8 L1202.6 170 L1205.9 168.7 L1209 167 L1209.2 171.2 L1211 175 L1215.1 174.3 L1219 173 L1220.2 169.4 L1222.8 166.6 L1224 163 L1228 162.7 L1231.8 161.6 L1235.4 160.1 L1239.3 159.3 L1243 158 L1245 153 L1240 151 L1242.2 148.2 L1245.4 146.4 L1247.6 143.6 L1250 141 L1253.8 140.7 L1257.5 140.3 L1261.2 141.6 L1265 141 L1265 140.6 L1269.3 139.4 L1272.7 136.3 L1277 135 L1278.1 131.4 L1278.2 127.6 L1279 124 L1282.7 120.8 L1287 118.6 L1291.1 119 L1295 120 L1298.6 120.1 L1302.2 119.9 L1305.6 118.3 L1309.2 118.8 L1312.7 117.6 L1316.4 118.3 L1319.9 117.4 L1323.5 117.9 L1327 117 L1331 113 L1334.9 113.1 L1338.5 111.8 L1342.4 111.9 L1345.9 110.2 L1349.6 109.2 L1353.5 109.4 L1357.1 107.9 L1361 108 L1365.1 108 L1369 109 L1373 109.2 L1377 109.8 L1381 109.5 L1385.1 109.6 L1389 111.3 L1393 111 L1397 109 L1395.6 105.7 L1395.4 101.9 L1394.2 98.5 L1392.2 95.3 L1391.2 91.9 L1390.2 88.4 L1389 85 L1392.6 83.7 L1396.1 82.1 L1399.5 80.6 L1403 79 L1405.4 76.1 L1407.4 73 L1405.5 77.8 L1405 83 L1408 89 L1412.3 88 L1416.5 86.9 L1420.8 86.3 L1425 85 L1429 84.6 L1433 84.7 L1437 85.8 L1441 85 L1444 91 L1446.7 94 L1449.4 97.1 L1452.8 99.5 L1455 103 L1458.5 102.6 L1462 102.6 L1465.4 101.5 L1469 102 L1469 107 L1472.1 108.8 L1475.3 110.4 L1478.9 111.2 L1481.7 113.6 L1485 115 L1486 118 L1483.5 122.5 L1481 127 L1482.8 130.2 L1485 133 L1487 139 L1490.7 142.3 L1494 146 L1489.9 147 L1485.9 148.3 L1482 150 L1481.4 154.6 L1480 158.9 L1478 163 L1474.5 164.4 L1471 165.7 L1468.2 168.4 L1464.7 169.7 L1461.3 171.2 L1458 173 L1455.2 176.7 L1452 180 L1455 185 L1452.2 188.2 L1449 191 L1444.1 192.3 L1439 193 L1435.4 192.8 L1431.8 192 L1428.2 192.1 L1424.6 191.6 L1421 191 L1417.3 192.4 L1414.3 195.2 L1410.5 196.2 L1407 198 L1403 195 L1399.3 196 L1395.9 198.1 L1392.4 199.6 L1388.4 200.1 L1385 202 L1382.6 205 L1380 207.7 L1377 210 L1381 215 L1380.6 218.5 L1379.7 222 L1380.1 225.6 L1379 229 L1380 232.9 L1380.8 237 L1380.7 241.1 L1382 245 L1385 251 L1385.8 254.6 L1385.8 258.4 L1387 262 L1382.2 264 L1377 265 L1373.9 266.8 L1370.5 268 L1367.1 269.2 L1364.2 271.5 L1361 273 L1357.1 274.4 L1353.1 275.6 L1349 276 L1345 277 L1341.8 279.7 L1337.7 281.1 L1334.2 283.3 L1331 286 L1327.2 287.8 L1323.1 289 L1319 290 L1315.2 292.1 L1312 295 L1308.3 293 L1304.7 291.1 L1300.6 290 L1297 288 L1292.8 286.9 L1288.9 285 L1285 283 L1281.1 285.3 L1277.9 288.6 L1274 291 L1269.6 289.9 L1265.3 288.5 L1261 287 L1257.9 289.1 L1254.7 291.1 L1251 292.4 L1248.5 295.5 L1245 297 L1241.4 296.4 L1238.6 293.7 L1235 293 L1231.1 291.4 L1227 291 L1222.8 291.6 L1219 293.8 L1215 295 L1211.1 295.3 L1207.3 296.3 L1203.9 298.4 L1200 299 L1198.6 302.4 L1198 306 L1194.7 307.8 L1191.8 310.3 L1189 312.7 L1186 315 L1185.7 319.1 L1184.9 323 L1184 327 L1183.4 331.4 L1182.7 335.8 L1181 340 L1178.4 343.4 L1176.3 347.2 L1173.1 350.2 L1171 354 L1167.5 354.9 L1164 353.6 L1160.5 354.1 L1157 353.8 L1153.5 354 L1150 354.1 L1146.5 354.8 L1143 355 L1138.8 354.4 L1135.1 352 L1131 351 L1127.5 350.2 L1124.2 348.6 L1121 347 L1117.4 347.7 L1114 349 L1115 343 L1114 338 L1113 333 L1109.3 331.1 L1106 328.4 L1102 327 L1098.2 327.3 L1094.5 328.3 L1090.8 328.9 L1087 329 L1083.5 329.8 L1080.3 331.7 L1077 333 L1073.4 331.6 L1069.4 331.2 L1065.6 330.5 L1062 329 L1062.3 325.5 L1063 322 L1062.2 318.5 L1063 315 L1064.9 311.2 L1066 307 L1063.2 304 L1059.8 301.6 L1056.6 299.1 L1053 297 L1049.4 294 L1047 290 L1043 290.3 L1039 291 L1036.5 294.7 L1035 299 L1032 304 L1029 310 L1024 310 L1020.8 312.2 L1017 313 L1015.3 317.2 L1013.3 321.2 L1011 325 L1007.7 326.5 L1004.6 328.1 L1001.3 329.5 L998 331 L996.4 327.3 L993.3 324.4 L991.4 320.9 L990 317 L990.8 313.4 L992.1 310.1 L994 307 L995.9 302.6 L999 299 L1002 294 L1002.1 289.6 L1001.2 285.2 L1000 281 L998.4 277.2 L998 273 L997 269 L998.2 263.9 L1000 259 L1003.6 257.4 L1007.3 256.1 L1011 255 L1012.7 251.6 L1014 248 L1013.1 243.6 L1011.8 239.4 L1011 235 L1010.7 231.4 L1011.1 227.8 L1011 224.2 L1011.9 220.6 L1012 217 L1008.7 214.7 L1005 213Z" fill="none" stroke="#3e3e3e" stroke-width="2.2" stroke-linejoin="round"/>
<path d="M1386 284 L1388.7 281.1 L1391 278 L1396.1 276.9 L1401 275 L1402.8 271.8 L1404.3 268.6 L1405 265 L1408.7 263.3 L1412.3 261.6 L1415.1 258.3 L1419 257 L1422 254 L1425.5 251.5 L1428.2 248.2 L1431 245 L1436.2 244.1 L1441 242 L1445.1 241.9 L1449 243 L1453 241 L1457 239 L1461.2 241.2 L1465 244 L1470 245.1 L1475 246 L1478.3 248.4 L1482.1 250 L1485 253 L1488.3 255.2 L1491.2 257.7 L1493.6 261 L1497 263 L1499.7 267.3 L1503 271 L1506.5 270.3 L1510 270.6 L1508.2 273.9 L1507.9 277.7 L1506 281 L1507.6 284.3 L1510.1 287.1 L1512.1 290.2 L1512.7 294.1 L1515 297 L1517.8 299.4 L1520.3 302.2 L1521.9 305.8 L1525 308 L1525.4 312.6 L1527 317 L1529.3 320.8 L1531 325 L1533.6 327.5 L1537 328.8 L1539.9 330.8 L1543.2 332 L1545.6 334.9 L1548.8 336.4 L1552 338 L1549.8 342.8 L1549 348 L1545.5 346.1 L1541.6 345.6 L1538 344 L1535 349 L1531.1 350.5 L1527.2 352.2 L1523 353 L1519.5 354.4 L1516 355.3 L1512.3 355.7 L1508.6 356 L1505 357 L1505.3 362.1 L1504 367 L1499 369 L1499 372.7 L1499.9 376.3 L1500 380 L1495.7 380.3 L1491.3 379.5 L1487 380 L1483 380.7 L1479 381.6 L1475 382 L1471 380 L1467.1 377.7 L1463 376 L1459.3 375.4 L1456.3 372.8 L1452.2 373 L1449 371 L1446.5 367.9 L1443.8 365 L1440.1 363.1 L1438.1 359.5 L1435 357 L1432.8 354.1 L1431 351 L1427.4 348.2 L1423.2 346.3 L1420 343 L1419.3 339 L1419.5 335 L1420 331 L1419.2 327.4 L1416.6 324.7 L1415.9 321.1 L1414 318 L1409.6 316.8 L1405 317 L1402.4 314.4 L1398.9 313.2 L1395.9 311.2 L1393 309 L1392 304 L1391 299 L1389.4 294.8 L1387 291 L1385.9 287.6Z" fill="none" stroke="#3e3e3e" stroke-width="2.2" stroke-linejoin="round"/>
<circle cx="1066" cy="280.6" r="5.2" fill="#b8101e"/>
<rect x="1239.25" y="206.35" width="10.2" height="10.2" fill="#f3f3f3" stroke="#000" stroke-width="1.9"/>
<path d="M1250.45 192.2V208.2M1247.4 192.55H1253.5M1247.4 207.85H1253.5" stroke="#0a0a0a" stroke-width="1.9" fill="none"/>
<text x="1253.4" y="208.6" font-family='"Liberation Sans", sans-serif' font-size="23.6" fill="#0a0a0a" stroke="#0a0a0a" stroke-width="0.45" textLength="30.4" lengthAdjust="spacingAndGlyphs">BK</text>
</g>
<rect x="958.3" y="18.9" width="621.05" height="401.7" fill="none" stroke="#161616" stroke-width="1.6"/>
</svg>
<svg class="abs" style="left:0;top:430px" width="1600" height="723" viewBox="0 430 1600 723" font-family='"Liberation Sans", sans-serif'>
<rect x="24.05" y="432.85" width="1557" height="705" fill="#fff" stroke="#262626" stroke-width="1.7"/>
<rect x="50" y="460" width="1513" height="606" fill="#fafafa"/>
<path d="M216.5 550.4V1010.6M304.5 550.4V1010.6M392.5 550.4V1010.6M480.5 550.4V1010.6M568.5 550.4V1010.6M656.5 550.4V1010.6M744.5 550.4V1010.6M831.5 550.4V1010.6M919.5 550.4V1010.6M1007.5 550.4V1010.6M1095.5 550.4V1010.6M1183.5 550.4V1010.6M1271.5 550.4V1010.6M1359.5 550.4V1010.6M128.5 918.5H1446.9M128.5 826.5H1446.9M128.5 734.5H1446.9M128.5 642.5H1446.9" stroke="#b4b4b4" stroke-width="1" stroke-dasharray="1.1 2.4" fill="none"/>
<rect x="1166" y="554" width="266" height="58" fill="#fafafa"/>
<path d="M128.5 1010.6v-7M128.5 550.4v7M216.39 1010.6v-7M216.39 550.4v7M304.29 1010.6v-7M304.29 550.4v7M392.18 1010.6v-7M392.18 550.4v7M480.07 1010.6v-7M480.07 550.4v7M567.97 1010.6v-7M567.97 550.4v7M655.86 1010.6v-7M655.86 550.4v7M743.75 1010.6v-7M743.75 550.4v7M831.65 1010.6v-7M831.65 550.4v7M919.54 1010.6v-7M919.54 550.4v7M1007.43 1010.6v-7M1007.43 550.4v7M1095.33 1010.6v-7M1095.33 550.4v7M1183.22 1010.6v-7M1183.22 550.4v7M1271.11 1010.6v-7M1271.11 550.4v7M1359.01 1010.6v-7M1359.01 550.4v7M1446.9 1010.6v-7M1446.9 550.4v7M128.5 1010.6h7M1446.9 1010.6h-7M128.5 918.56h7M1446.9 918.56h-7M128.5 826.52h7M1446.9 826.52h-7M128.5 734.48h7M1446.9 734.48h-7M128.5 642.44h7M1446.9 642.44h-7M128.5 550.4h7M1446.9 550.4h-7" stroke="#222" stroke-width="1.1" fill="none"/>
<rect x="494.72" y="997.4" width="87.89" height="13.2" fill="#a3f9a3" stroke="#3cf03c" stroke-width="1"/>
<rect x="670.51" y="998.3" width="87.89" height="12.3" fill="#a3f9a3" stroke="#3cf03c" stroke-width="1"/>
<rect x="846.3" y="996.3" width="87.89" height="14.3" fill="#a3f9a3" stroke="#3cf03c" stroke-width="1"/>
<rect x="1022.08" y="996.3" width="87.89" height="14.3" fill="#a3f9a3" stroke="#3cf03c" stroke-width="1"/>
<rect x="1109.98" y="965.5" width="87.89" height="45.1" fill="#a3f9a3" stroke="#3cf03c" stroke-width="1"/>
<rect x="1197.87" y="975" width="87.89" height="35.6" fill="#a3f9a3" stroke="#3cf03c" stroke-width="1"/>
<rect x="406.83" y="1008.5" width="87.89" height="2.1" fill="#a6a6fb" stroke="#2a2aee" stroke-width="1.1"/>
<rect x="494.72" y="997.8" width="87.89" height="12.8" fill="#a6a6fb" stroke="#2a2aee" stroke-width="1.1"/>
<rect x="582.62" y="1006.5" width="87.89" height="4.1" fill="#a6a6fb" stroke="#2a2aee" stroke-width="1.1"/>
<rect x="670.51" y="1000" width="87.89" height="10.6" fill="#a6a6fb" stroke="#2a2aee" stroke-width="1.1"/>
<rect x="846.3" y="998" width="87.89" height="12.6" fill="#a6a6fb" stroke="#2a2aee" stroke-width="1.1"/>
<rect x="934.19" y="1003.7" width="87.89" height="6.9" fill="#a6a6fb" stroke="#2a2aee" stroke-width="1.1"/>
<rect x="1022.08" y="997" width="87.89" height="13.6" fill="#a6a6fb" stroke="#2a2aee" stroke-width="1.1"/>
<rect x="1109.98" y="967.3" width="87.89" height="43.3" fill="#a6a6fb" stroke="#2a2aee" stroke-width="1.1"/>
<rect x="1197.87" y="976" width="87.89" height="34.6" fill="#a6a6fb" stroke="#2a2aee" stroke-width="1.1"/>
<rect x="1285.76" y="1008.9" width="87.89" height="1.7" fill="#a6a6fb" stroke="#2a2aee" stroke-width="1.1"/>
<polyline points="128.5,896.5 142,898.5 155,897.5 168.8,894.3 182,891.5 195,893 207.5,897.5 220,903.8 235,912 248.8,917 261.3,919.5 273.8,920 287.5,918.8 302.5,915 315,910.8 327.5,905.5 341.3,900 355,896 367.5,895.3 380,896.8 393.8,898.8 407.5,900 421.3,896.5 435,885.7 448,868.8 461.6,843 474.9,810.6 488.3,786 501.6,771 514.7,770.4 528.1,782.3 541.9,803.1 555,828.1 568.1,851.9 581.3,864.4 594.5,860.8 608,849 621.5,841 635,848.3 648,867.5 661.3,886.3 674.5,890 688,873 701.3,846.3 714.5,821.3 728,807.3 741.3,806.5 754.5,818 768,841.3 781.3,869.5 794.5,888.8 808,888.5 821.3,866.3 834.5,833.8 848,805 861.3,787.8 874.5,783.8 888,791.3 901.3,808.8 914.5,832.5 928,860 941.3,886.3 954.5,908 968,923.8 981.3,930.3 994.5,928.8 1008,923.5 1021.3,919.3 1034.5,919.3 1048,920.5 1061.3,916.5 1074.5,901.8 1088,877.5 1101.3,847.5 1114.5,816.3 1128,788.8 1141.3,768.8 1154.5,756.8 1168,754.8 1181.3,757.5 1194.5,758.3 1208,751.3 1221.3,739.5 1234.5,731.3 1248,735 1261.3,752.5 1274.5,778 1288,805 1301.3,827.5 1314.5,849.5 1328,873 1341.2,900 1354.3,926 1367.5,948.1 1380.6,955.4 1394,949 1407.5,933.8 1420.6,916.3 1434,901.3 1447.2,889.4" fill="none" stroke="#111" stroke-width="1.35" stroke-linejoin="round"/>
<rect x="128.5" y="550.4" width="1318.4" height="460.2" fill="none" stroke="#1a1a1a" stroke-width="1.7"/>
<text transform="translate(788.3 492.8) scale(1.0 1)" font-size="18.1" text-anchor="middle" fill="#111" >LWD−Region 13 Samnaungruppe 2485m</text>
<text transform="translate(127.2 518.7) scale(1.0 1)" font-size="18.1" text-anchor="start" fill="#111" >Schneefallgrenze</text>
<text transform="translate(128.4 537.1) scale(0.99 1)" font-size="16.5" text-anchor="start" fill="#111" >300m</text>
<text transform="translate(216.29 537.1) scale(0.99 1)" font-size="16.5" text-anchor="start" fill="#111" >100m</text>
<text transform="translate(304.19 537.1) scale(0.99 1)" font-size="16.5" text-anchor="start" fill="#111" >1300m</text>
<text transform="translate(392.08 537.1) scale(0.99 1)" font-size="16.5" text-anchor="start" fill="#111" >900m</text>
<text transform="translate(479.97 537.1) scale(0.99 1)" font-size="16.5" text-anchor="start" fill="#111" >700m</text>
<text transform="translate(567.87 537.1) scale(0.99 1)" font-size="16.5" text-anchor="start" fill="#111" >800m</text>
<text transform="translate(655.76 537.1) scale(0.99 1)" font-size="16.5" text-anchor="start" fill="#111" >1700m</text>
<text transform="translate(743.65 537.1) scale(0.99 1)" font-size="16.5" text-anchor="start" fill="#111" >1300m</text>
<text transform="translate(831.55 537.1) scale(0.99 1)" font-size="16.5" text-anchor="start" fill="#111" >1000m</text>
<text transform="translate(919.44 537.1) scale(0.99 1)" font-size="16.5" text-anchor="start" fill="#111" >900m</text>
<text transform="translate(1007.33 537.1) scale(0.99 1)" font-size="16.5" text-anchor="start" fill="#111" >1600m</text>
<text transform="translate(1095.23 537.1) scale(0.99 1)" font-size="16.5" text-anchor="start" fill="#111" >1200m</text>
<text transform="translate(1183.12 537.1) scale(0.99 1)" font-size="16.5" text-anchor="start" fill="#111" >1100m</text>
<text transform="translate(1271.01 537.1) scale(0.99 1)" font-size="16.5" text-anchor="start" fill="#111" >900m</text>
<text transform="translate(1358.91 537.1) scale(0.99 1)" font-size="16.5" text-anchor="start" fill="#111" >1500m</text>
<text transform="translate(1446.8 537.1) scale(0.99 1)" font-size="16.5" text-anchor="start" fill="#111" >1100m</text>
<text transform="translate(128.5 1034.8) scale(1.0 1)" font-size="18.7" text-anchor="middle" fill="#111" >00h</text>
<text transform="translate(128.5 1052.9) scale(0.967 1)" font-size="18.8" text-anchor="middle" fill="#111" >Di,10.02.</text>
<text transform="translate(216.39 1034.8) scale(1.0 1)" font-size="18.7" text-anchor="middle" fill="#111" >06h</text>
<text transform="translate(216.39 1052.9) scale(0.967 1)" font-size="18.8" text-anchor="middle" fill="#111" >Di,10.02.</text>
<text transform="translate(304.29 1034.8) scale(1.0 1)" font-size="18.7" text-anchor="middle" fill="#111" >12h</text>
<text transform="translate(304.29 1052.9) scale(0.967 1)" font-size="18.8" text-anchor="middle" fill="#111" >Di,10.02.</text>
<text transform="translate(392.18 1034.8) scale(1.0 1)" font-size="18.7" text-anchor="middle" fill="#111" >18h</text>
<text transform="translate(392.18 1052.9) scale(0.967 1)" font-size="18.8" text-anchor="middle" fill="#111" >Di,10.02.</text>
<text transform="translate(480.07 1034.8) scale(1.0 1)" font-size="18.7" text-anchor="middle" fill="#111" >00h</text>
<text transform="translate(480.07 1052.9) scale(1.0 1)" font-size="18.8" text-anchor="middle" fill="#111" >Mi,11.02.</text>
<text transform="translate(567.97 1034.8) scale(1.0 1)" font-size="18.7" text-anchor="middle" fill="#111" >06h</text>
<text transform="translate(567.97 1052.9) scale(1.0 1)" font-size="18.8" text-anchor="middle" fill="#111" >Mi,11.02.</text>
<text transform="translate(655.86 1034.8) scale(1.0 1)" font-size="18.7" text-anchor="middle" fill="#111" >12h</text>
<text transform="translate(655.86 1052.9) scale(1.0 1)" font-size="18.8" text-anchor="middle" fill="#111" >Mi,11.02.</text>
<text transform="translate(743.75 1034.8) scale(1.0 1)" font-size="18.7" text-anchor="middle" fill="#111" >18h</text>
<text transform="translate(743.75 1052.9) scale(1.0 1)" font-size="18.8" text-anchor="middle" fill="#111" >Mi,11.02.</text>
<text transform="translate(831.65 1034.8) scale(1.0 1)" font-size="18.7" text-anchor="middle" fill="#111" >00h</text>
<text transform="translate(831.65 1052.9) scale(0.962 1)" font-size="18.8" text-anchor="middle" fill="#111" >Do,12.02.</text>
<text transform="translate(919.54 1034.8) scale(1.0 1)" font-size="18.7" text-anchor="middle" fill="#111" >06h</text>
<text transform="translate(919.54 1052.9) scale(0.962 1)" font-size="18.8" text-anchor="middle" fill="#111" >Do,12.02.</text>
<text transform="translate(1007.43 1034.8) scale(1.0 1)" font-size="18.7" text-anchor="middle" fill="#111" >12h</text>
<text transform="translate(1007.43 1052.9) scale(0.962 1)" font-size="18.8" text-anchor="middle" fill="#111" >Do,12.02.</text>
<text transform="translate(1095.33 1034.8) scale(1.0 1)" font-size="18.7" text-anchor="middle" fill="#111" >18h</text>
<text transform="translate(1095.33 1052.9) scale(0.962 1)" font-size="18.8" text-anchor="middle" fill="#111" >Do,12.02.</text>
<text transform="translate(1183.22 1034.8) scale(1.0 1)" font-size="18.7" text-anchor="middle" fill="#111" >00h</text>
<text transform="translate(1183.22 1052.9) scale(1.0 1)" font-size="18.8" text-anchor="middle" fill="#111" >Fr,13.02.</text>
<text transform="translate(1271.11 1034.8) scale(1.0 1)" font-size="18.7" text-anchor="middle" fill="#111" >06h</text>
<text transform="translate(1271.11 1052.9) scale(1.0 1)" font-size="18.8" text-anchor="middle" fill="#111" >Fr,13.02.</text>
<text transform="translate(1359.01 1034.8) scale(1.0 1)" font-size="18.7" text-anchor="middle" fill="#111" >12h</text>
<text transform="translate(1359.01 1052.9) scale(1.0 1)" font-size="18.8" text-anchor="middle" fill="#111" >Fr,13.02.</text>
<text transform="translate(1446.9 1034.8) scale(1.0 1)" font-size="18.7" text-anchor="middle" fill="#111" >18h</text>
<text transform="translate(1446.9 1052.9) scale(1.0 1)" font-size="18.8" text-anchor="middle" fill="#111" >Fr,13.02.</text>
<text transform="translate(118 1016.9) scale(1.0 1)" font-size="18.4" text-anchor="end" fill="#111" >0</text>
<text transform="translate(1463 1016.9) scale(1.0 1)" font-size="18.4" text-anchor="start" fill="#111" >0</text>
<text transform="translate(118 924.86) scale(1.0 1)" font-size="18.4" text-anchor="end" fill="#111" >10</text>
<text transform="translate(1463 924.86) scale(1.0 1)" font-size="18.4" text-anchor="start" fill="#111" >20</text>
<text transform="translate(118 832.82) scale(1.0 1)" font-size="18.4" text-anchor="end" fill="#111" >20</text>
<text transform="translate(1463 832.82) scale(1.0 1)" font-size="18.4" text-anchor="start" fill="#111" >40</text>
<text transform="translate(118 740.78) scale(1.0 1)" font-size="18.4" text-anchor="end" fill="#111" >30</text>
<text transform="translate(1463 740.78) scale(1.0 1)" font-size="18.4" text-anchor="start" fill="#111" >60</text>
<text transform="translate(118 648.74) scale(1.0 1)" font-size="18.4" text-anchor="end" fill="#111" >40</text>
<text transform="translate(1463 648.74) scale(1.0 1)" font-size="18.4" text-anchor="start" fill="#111" >80</text>
<text transform="translate(118 556.7) scale(1.0 1)" font-size="18.4" text-anchor="end" fill="#111" >50</text>
<text transform="translate(1463 556.7) scale(1.0 1)" font-size="18.4" text-anchor="start" fill="#111" >100</text>
<text transform="translate(73.4 780.2) rotate(-90)" font-size="18.05" text-anchor="middle" fill="#111">Neuschnee in cm/Niederschlag in mm</text>
<text transform="translate(1526.8 781) rotate(-90)" font-size="18.15" text-anchor="middle" fill="#111">mittlerer Wind in km/h</text>
<text transform="translate(1366.4 571.5) scale(1.0 1)" font-size="18.1" text-anchor="end" fill="#111" >Niederschlag</text>
<text transform="translate(1366.4 589.4) scale(1.0 1)" font-size="18.1" text-anchor="end" fill="#111" >Neuschnee</text>
<text transform="translate(1366.4 607.6) scale(1.0 1)" font-size="18.1" text-anchor="end" fill="#111" >mittlerer Wind in 3000 m</text>
<rect x="1376.6" y="561.1" width="48.9" height="9.3" fill="#a3f9a3" stroke="#3cf03c" stroke-width="1"/>
<rect x="1376.6" y="579.2" width="48.9" height="9" fill="#a6a6fb" stroke="#2a2aee" stroke-width="1.1"/>
<path d="M1376.3 601.6H1426" stroke="#111" stroke-width="1.3"/>
<g id="geosphere">
<g fill="none" stroke="#234652" stroke-width="1.25" stroke-linecap="round">
<circle cx="63.87" cy="472.57" r="1.55"/>
<path d="M64.19 467.36C64.79 467.63 66.98 468.01 67.77 468.99C68.56 469.96 69.11 471.86 68.94 473.22C68.78 474.57 67.75 476.20 66.80 477.12C65.84 478.04 64.23 478.75 63.22 478.75C62.21 478.75 61.23 477.66 60.74 477.12C60.26 476.58 60.37 475.77 60.29 475.49"/>
<path d="M67.77 463.46C68.53 463.95 71.44 464.98 72.33 466.39C73.22 467.80 73.32 470.02 73.11 471.92C72.89 473.81 72.02 476.04 71.02 477.77C70.03 479.51 68.64 481.13 67.12 482.33C65.60 483.52 62.78 484.49 61.92 484.93"/>
<path d="M72.33 461.18C72.98 461.67 75.42 462.75 76.23 464.11C77.04 465.46 77.42 467.47 77.21 469.31C76.99 471.16 75.74 473.43 74.93 475.17C74.12 476.90 72.98 478.10 72.33 479.72C71.68 481.35 71.13 483.19 71.02 484.93C70.92 486.66 71.24 488.51 71.68 490.13C72.11 491.76 73.30 493.93 73.63 494.69"/>
<path d="M84.04 461.51C84.31 462.16 85.50 464.00 85.66 465.41C85.83 466.82 85.45 468.55 85.01 469.96C84.58 471.37 83.49 472.68 83.06 473.87C82.63 475.06 82.14 476.20 82.41 477.12C82.68 478.04 83.44 478.96 84.69 479.40C85.93 479.83 88.10 479.40 89.89 479.72C91.68 480.05 94.50 481.08 95.42 481.35"/>
<path d="M91.52 466.39C91.09 466.98 89.19 468.72 88.92 469.96C88.65 471.21 89.19 472.73 89.89 473.87C90.60 475.01 92.17 476.09 93.15 476.80C94.12 477.50 95.31 477.88 95.75 478.10"/>
<path d="M93.47 469.31C93.31 469.75 92.44 471.10 92.50 471.92C92.55 472.73 93.31 473.65 93.80 474.19C94.28 474.74 95.15 475.01 95.42 475.17"/>
<path d="M80.46 495.34C80.35 494.69 79.54 492.74 79.81 491.43C80.08 490.13 80.95 488.51 82.09 487.53C83.22 486.55 85.12 485.85 86.64 485.58C88.16 485.31 90.11 485.69 91.19 485.90C92.28 486.12 92.82 486.72 93.15 486.88"/>
<path d="M86.31 493.39C86.37 492.90 86.15 491.22 86.64 490.46C87.13 489.70 88.43 489.05 89.24 488.83C90.06 488.62 91.14 489.10 91.52 489.16"/>
</g>
<path d="M77.21 460.53C77.80 461.13 80.08 462.75 80.78 464.11C81.49 465.46 81.76 467.04 81.43 468.66C81.11 470.29 79.70 472.35 78.83 473.87C77.96 475.39 76.77 476.47 76.23 477.77C75.69 479.07 75.36 480.59 75.58 481.68C75.80 482.76 76.55 483.84 77.53 484.28C78.51 484.71 79.92 484.66 81.43 484.28C82.95 483.90 84.90 482.33 86.64 482.00C88.37 481.68 90.54 482.00 91.84 482.33C93.15 482.65 94.01 483.68 94.45 483.95" fill="none" stroke="#c2d443" stroke-width="1.35" stroke-linecap="round"/>
<text x="78.4" y="510" font-size="10.9" font-weight="bold" text-anchor="middle" fill="#1d3c47" textLength="57" lengthAdjust="spacingAndGlyphs">GeoSphere</text>
<text x="78.7" y="522.7" font-size="11.3" text-anchor="middle" fill="#3d626f" textLength="36.8" lengthAdjust="spacingAndGlyphs">Austria</text>
</g>
</svg>
</body></html>
